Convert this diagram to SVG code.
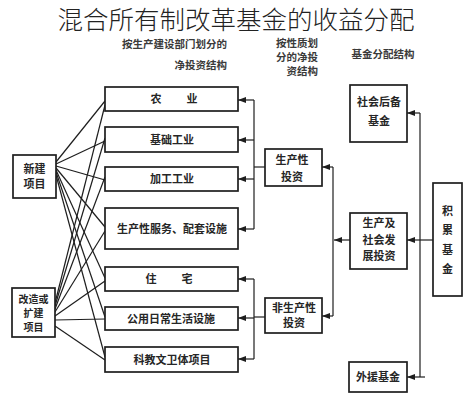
<svg xmlns="http://www.w3.org/2000/svg" width="470" height="400" viewBox="0 0 470 400">
<style>
.box{fill:#fff;stroke:#1e1e1e;stroke-width:1.7}
.t{font-family:"Noto Sans CJK SC","Liberation Sans",sans-serif;font-size:11px;font-weight:bold;fill:#262626;text-anchor:middle}
.s{font-size:10px}
.h{font-family:"Noto Sans CJK SC","Liberation Sans",sans-serif;font-size:10.5px;font-weight:bold;fill:#3a3a3a}
.ln{stroke:#1e1e1e;stroke-width:1.2;fill:none}
.ar{stroke:#1e1e1e;stroke-width:1.2;fill:none;marker-end:url(#ah)}
.title{font-family:"Noto Sans CJK SC","Liberation Sans",sans-serif;font-size:25.5px;font-weight:300;fill:#222;text-anchor:middle}
</style>
<defs>
<marker id="ah" viewBox="0 0 8 6" refX="8" refY="3" markerWidth="8" markerHeight="6" markerUnits="userSpaceOnUse" orient="auto"><path d="M0,0 L8,3 L0,6 z" fill="#1e1e1e"/></marker>
</defs>
<rect width="470" height="400" fill="#fff"/>

<g id="headers">
<text class="h" x="227" y="48" text-anchor="end">按生产建设部门划分的</text>
<text class="h" x="227" y="69" text-anchor="end">净投资结构</text>
<text class="h" x="318" y="47" text-anchor="end">按性质划</text>
<text class="h" x="318" y="61" text-anchor="end">分的净投</text>
<text class="h" x="318" y="75" text-anchor="end">资结构</text>
<text class="h" x="383" y="58" text-anchor="middle">基金分配结构</text>
</g>

<g id="connectors">
<line class="ln" x1="56" y1="162" x2="105" y2="101"/>
<line class="ln" x1="56" y1="164" x2="105" y2="141"/>
<line class="ln" x1="56" y1="166" x2="105" y2="180"/>
<line class="ln" x1="56" y1="168" x2="105" y2="227"/>
<line class="ln" x1="56" y1="170" x2="105" y2="278"/>
<line class="ln" x1="56" y1="172" x2="105" y2="317"/>
<line class="ln" x1="56" y1="175" x2="105" y2="357"/>
<line class="ln" x1="55" y1="303" x2="105" y2="105"/>
<line class="ln" x1="55" y1="306" x2="105" y2="138"/>
<line class="ln" x1="55" y1="309" x2="105" y2="177"/>
<line class="ln" x1="55" y1="312" x2="105" y2="231"/>
<line class="ln" x1="55" y1="316" x2="105" y2="281"/>
<line class="ln" x1="55" y1="320" x2="105" y2="319"/>
<line class="ln" x1="55" y1="326" x2="105" y2="360"/>
<line class="ln" x1="254" y1="100" x2="254" y2="229"/>
<line class="ln" x1="254" y1="167" x2="265" y2="167"/>
<line class="ar" x1="254" y1="100" x2="238" y2="100"/>
<line class="ar" x1="254" y1="140" x2="238" y2="140"/>
<line class="ar" x1="254" y1="179" x2="238" y2="179"/>
<line class="ar" x1="254" y1="229" x2="238" y2="229"/>
<line class="ln" x1="254" y1="279" x2="254" y2="359"/>
<line class="ln" x1="254" y1="317" x2="265" y2="317"/>
<line class="ar" x1="254" y1="279" x2="238" y2="279"/>
<line class="ar" x1="254" y1="318" x2="238" y2="318"/>
<line class="ar" x1="254" y1="359" x2="238" y2="359"/>
<line class="ln" x1="333" y1="167" x2="333" y2="316"/>
<line class="ar" x1="333" y1="167" x2="322" y2="167"/>
<line class="ar" x1="333" y1="316" x2="322" y2="316"/>
<line class="ar" x1="350" y1="240" x2="334" y2="240"/>
<line class="ln" x1="420" y1="113" x2="420" y2="377"/>
<line class="ar" x1="420" y1="113" x2="407" y2="113"/>
<line class="ar" x1="425" y1="377" x2="407" y2="377"/>
<line class="ar" x1="433" y1="240" x2="407" y2="240"/>
</g>

<g id="n-xinjian">
<rect class="box" x="13" y="155" width="43" height="43"/>
<text class="t" x="34.5" y="173">新建</text>
<text class="t" x="34.5" y="188">项目</text>
</g>
<g id="n-gaizao">
<rect class="box" x="12" y="288" width="43" height="49"/>
<text class="t s" x="33.5" y="303">改造或</text>
<text class="t s" x="33.5" y="317">扩建</text>
<text class="t s" x="33.5" y="331">项目</text>
</g>

<g id="n-nongye">
<rect class="box" x="105" y="87" width="133" height="24"/>
<text class="t" x="174" y="103" xml:space="preserve">农          业</text>
</g>
<g id="n-jichu">
<rect class="box" x="105" y="127" width="133" height="25"/>
<text class="t" x="172" y="143.5">基础工业</text>
</g>
<g id="n-jiagong">
<rect class="box" x="105" y="167" width="133" height="24"/>
<text class="t" x="172" y="183">加工工业</text>
</g>
<g id="n-fuwu">
<rect class="box" x="105" y="208" width="133" height="41"/>
<text class="t" x="172" y="232.5">生产性服务、配套设施</text>
</g>
<g id="n-zhuzhai">
<rect class="box" x="105" y="267" width="133" height="24"/>
<text class="t" x="169" y="283" xml:space="preserve">住          宅</text>
</g>
<g id="n-gongyong">
<rect class="box" x="105" y="307" width="133" height="23"/>
<text class="t" x="171" y="322.5">公用日常生活设施</text>
</g>
<g id="n-kejiao">
<rect class="box" x="105" y="347" width="133" height="25"/>
<text class="t" x="172" y="363.5">科教文卫体项目</text>
</g>

<g id="n-shengchanxing">
<rect class="box" x="265" y="149" width="57" height="37"/>
<text class="t" x="292" y="164">生产性</text>
<text class="t" x="292" y="181">投资</text>
</g>
<g id="n-feishengchan">
<rect class="box" x="265" y="298" width="57" height="35"/>
<text class="t" x="294" y="312">非生产性</text>
<text class="t" x="294" y="327">投资</text>
</g>

<g id="n-houbei">
<rect class="box" x="350" y="85" width="57" height="57"/>
<text class="t" x="379" y="106">社会后备</text>
<text class="t" x="379" y="125">基金</text>
</g>
<g id="n-fazhan">
<rect class="box" x="350" y="213" width="57" height="56"/>
<text class="t" x="379" y="227">生产及</text>
<text class="t" x="379" y="244">社会发</text>
<text class="t" x="379" y="260">展投资</text>
</g>
<g id="n-waiyuan">
<rect class="box" x="349" y="362" width="58" height="30"/>
<text class="t" x="378" y="381">外援基金</text>
</g>
<g id="n-jilei">
<rect class="box" x="433" y="183" width="29" height="113"/>
<text class="t" x="447.5" y="215">积</text>
<text class="t" x="447.5" y="234">累</text>
<text class="t" x="447.5" y="254">基</text>
<text class="t" x="447.5" y="273">金</text>
</g>

<text class="title" x="236" y="29">混合所有制改革基金的收益分配</text>
</svg>
